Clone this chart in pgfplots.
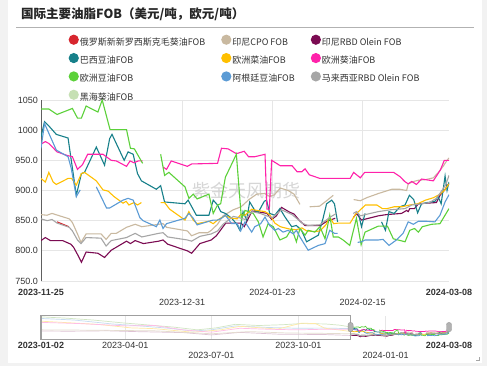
\documentclass[border=0pt]{standalone}
\usepackage{fontspec}
\setmainfont{Liberation Sans}
\newfontfamily\cjk{Noto Sans CJK SC}
\usepackage{pgfplots}
\usepackage{pgfplotstable}
\pgfplotsset{compat=1.18}

\definecolor{cRed}{HTML}{D7262E}
\definecolor{cTan}{HTML}{C9B9A0}
\definecolor{cMaroon}{HTML}{7B0B52}
\definecolor{cTeal}{HTML}{17808A}
\definecolor{cYellow}{HTML}{FFC000}
\definecolor{cMagenta}{HTML}{FF22AA}
\definecolor{cGreen}{HTML}{5CD13A}
\definecolor{cBlue}{HTML}{5B9BD5}
\definecolor{cGray}{HTML}{A6A6A6}
\definecolor{cLgreen}{HTML}{C6E0B4}
\definecolor{gridc}{HTML}{E6E6E6}
\definecolor{axisc}{HTML}{606060}
\definecolor{tickc}{HTML}{333333}
\definecolor{bgc}{HTML}{F2F2F2}

\pgfplotstableread{
d v
4.1 848
5.6 844
7.1 840
}\tRed

\pgfplotstableread{
d v
0 860
1.5 859
2.8 862
7.2 853
8 847
9.3 828
10.2 814
11.5 828
15.3 828
16.6 819
17.9 829
19.2 829
21.8 839
24 844
25.7 840
30 844
31.1 845
32 839
37.3 833
38.4 825
40.3 830
42.5 830
43.4 834
45 844
46.4 858
49 868
51 873
53 885
55 894
57 895
58.3 890
59.5 893
61 904
63 900
64.5 894
66 877
nan nan
68.5 873
71 874
72.8 883
74.5 892
nan nan
79.7 885
81.4 883
83 888
86 895
89.4 902
91.5 902
93.2 900
93.6 911
95 915
96.2 917
98 918
100 921
101.3 930
102.5 940
103.3 948
104 954
}\tTan

\pgfplotstableread{
d v
0 817
1.1 822
2.4 817
5.5 817
7.6 811
8.3 806
9.3 794
10.3 781
11.5 798
14.5 796
16.2 789
17.9 801
19.2 806
21.8 816
22.8 812
24 817
26.1 812
30 816
31.1 818
32.3 811
37.3 800
38.4 796
40.5 812
43.4 818
44.7 825
47.1 846
49.1 846
51 846
51.8 840
53.8 866
55.9 864
57.6 862
58.8 852
60 858
61.3 872
63.4 864
64.5 861
65.9 850
67.3 842
71.2 842
72.9 849
75 854
nan nan
79.6 855
80.4 862
81.7 851
86 858
88 860
91.9 862
93.2 867
93.6 865
94 870
95.2 870
96.2 878
100.8 880
101.7 892
102.8 900
104 912
}\tMaroon

\pgfplotstableread{
d v
0 989
0.9 1014
2 1007
3.9 993
6.9 987
9 892
10.3 928
11.1 930
14.1 972
16.2 942
17.5 986
18.1 993
21.2 950
22.2 964
23.5 960
24.6 928
25.6 916
29.4 902
30.5 908
31.5 881
36.7 878
37.5 884
39.6 859
42.8 859
43.9 884
45 876
45.8 865
47 862
48.6 854
49.8 845
50.7 834
51.5 865
52.4 851
53.2 881
54.5 867
55.4 864
56.9 882
57.5 884
58.3 862
59.6 859
60.9 870
62.2 856
63.9 840
65.1 842
66.4 834
67.7 815
70.7 826
71.9 854
72.8 878
74.1 884
74.8 878
75.6 848
nan nan
80.9 862
81.7 840
82.6 862
nan nan
86.8 848
87.8 834
88.7 865
90 862
91.5 873
92.8 876
93.9 892
95 885
96 863
97 878
98.5 880
100.4 882
101.2 890
102 878
103 924
103.5 900
104 914
}\tTeal

\pgfplotstableread{
d v
0 920
1.1 914
2 930
3.1 914
3.9 910
6.9 920
7.8 920
9 909
10.3 928
11.1 930
14.1 916
15.8 901
17.1 899
18.6 890
20.9 879
21.7 882
22.4 876
23.7 880
24.6 876
25.6 880
nan nan
30.5 880
31.5 880
32.8 869
36.7 851
37.7 865
38.8 851
39.8 845
42.8 849
43.9 845
45 851
46 855
47 858
48.6 854
50 853
50.9 860
52 859
53.7 869
55 867
57.1 865
58.3 860
59.6 846
61 840
62.2 838
63.4 836
65.1 835
66.5 838
67.7 833
69.8 832
71.1 833
72.6 843
73.6 856
74.6 845
75.8 846
78.8 846
80.1 860
82.7 876
85.6 876
87 870
88.2 870
90 873
92 873
94 876
96 878
98 884
100 888
101.5 893
102.8 900
104 911
}\tYellow

\pgfplotstableread{
d v
0 977
1.1 981
2 978
4.1 964
6.7 958
8 956
9.3 935
10.6 943
11.9 960
15.8 960
17.9 950
19.2 949
21.8 940
22.7 949
23.7 946
24.8 949
25.9 949
nan nan
31.1 939
32 935
33.2 949
37.3 940
38.4 944
45 945
46 970
47.7 969
49.8 961
51.8 965
52.9 956
54.5 956
57.1 960
57.6 869
58.2 869
58.8 950
61 941
64 941
65.3 931
66.5 931
67.3 936
68.4 926
71.1 920
78.8 920
79.7 930
81.4 921
82.5 930
89.9 930
91.5 923
92.7 915
93.6 911
94.5 915
95.7 910
97 919
100 916
101.8 934
102.8 950
104 950
}\tMagenta

\pgfplotstableread{
d v
0 1035
2 1035
4.1 1026
8 1036
9.3 1020
10.3 1020
11.5 1040
14.5 1030
15.6 1050
17.6 1001
21.8 1001
22.8 970
23.8 969
25.9 945
nan nan
30.5 960
31.5 925
32.6 930
36.7 906
37.7 887
38.8 894
39.8 886
42.8 894
43.9 862
45 876
45.8 878
47 922
49.8 960
51.1 852
52 867
54.1 862
55.4 848
56.6 823
57.9 845
59.2 840
60.9 818
62.6 823
63.9 837
65.1 815
66 837
67.3 826
68.1 834
69.8 831
71.1 840
72.4 820
73.6 859
74.5 823
75.8 823
77 818
78.7 809
80.4 854
81.6 810
82.6 831
86 841
88.3 841
89.8 820
92.8 815
94 834
95.2 837
96.2 831
97.2 840
99.6 844
101.7 845
104 870
}\tGreen

\pgfplotstableread{
d v
0 970
0.9 1011
3.9 967
6.9 956
7.7 937
9 890
10 901
nan nan
14.1 906
16.7 871
17.5 871
20.9 884
22.2 887
23.5 884
25.2 855
26 850
29.4 840
30.3 851
31.1 837
32 845
36.7 854
37.7 862
38.8 854
39.8 843
42.8 849
43.9 851
45 851
46 854
47 859
48.6 845
50 845
50.9 833
52 848
53.7 831
54.5 840
56 845
57.1 856
58.3 842
59.6 834
60.5 837
61.7 831
63 834
64.3 828
65.1 834
66 823
68.1 801
70.7 809
72.4 812
73.6 834
74.8 829
75.6 829
nan nan
80.7 814
81.7 815
82.6 818
86 818
87.2 819
88.7 809
90.6 818
92.3 829
93.6 848
94.9 844
96.2 849
98.3 849
100.4 848
101.7 859
103 881
104 893
}\tBlue

\pgfplotstableread{
d v
0 853
1.6 850
2.8 852
4.1 846
7.2 839
8 833
9.3 818
10.2 812
11.5 822
15.3 821
16.6 808
17.9 817
21.8 822
24 829
25.7 823
30 829
31.1 830
32.3 823
37.3 818
38.4 816
40.5 824
43.4 828
45 833
46.4 844
49 857
50.5 855
52 852
53.8 865
55.9 862
57.5 858
59 855
61.3 868
64 860
65.5 852
66.5 846
68 842
71 843
72.5 850
74 857
75.3 862
nan nan
79.6 862
80.4 865
81.4 858
82.6 860
86 865
89 868
92.8 870
94.5 876
97 878
99 880
100.8 887
102.3 901
103.2 910
104 925
}\tGray

% navigator history (faded)
\pgfplotstableread{
d v
0 1290
25 1260
55 1210
85 1140
110 1090
140 1030
165 960
185 1010
205 1100
230 1070
255 1090
275 1120
300 1110
315 1080
327 1035
}\nA
\pgfplotstableread{
d v
0 1250
35 1210
75 1110
105 1060
135 1000
160 930
180 960
205 1060
240 1020
270 1000
300 1005
327 990
}\nB
\pgfplotstableread{
d v
0 1180
30 1140
60 1100
95 1010
120 990
160 900
190 960
210 1050
250 980
275 1130
290 1120
300 1000
327 920
}\nC
\pgfplotstableread{
d v
0 1150
40 1120
90 1060
120 1070
150 960
180 900
210 1000
240 975
270 960
300 975
327 976
}\nD
\pgfplotstableread{
d v
0 930
30 925
70 935
100 915
150 890
180 830
210 895
250 850
300 840
327 817
}\nE
\pgfplotstableread{
d v
0 960
60 950
120 935
180 860
220 915
260 880
300 870
327 860
}\nF

\begin{document}
\begin{tikzpicture}[x=1pt,y=1pt]
\fill[bgc] (0pt,0pt) rectangle (487pt,366pt);
\fill[white] (8pt,3pt) rectangle (482pt,366pt);
\draw[gray!70, line width=0.6pt] (476pt,6pt) -- (479pt,6pt) -- (479pt,9pt);
\node[anchor=west, inner sep=0pt, font=\cjk\bfseries\fontsize{12.5}{14}\selectfont, text=black!85] at (21pt,352pt) {国际主要油脂FOB（美元/吨，欧元/吨）};
\draw[gray!60, line width=0.8pt] (16pt,339pt) -- (474pt,339pt);

\begin{axis}[
  at={(41pt,85pt)}, anchor=south west,
  scale only axis, width=408pt, height=181pt,
  xmin=0, xmax=104, ymin=750, ymax=1050,
  axis lines*=left,
  x axis line style={draw=none},
  y axis line style={draw=axisc, line width=1pt},
  xtick={36,59,82}, xticklabels={,,},
  ytick={750,800,850,900,950,1000,1050},
  yticklabels={750.0,800.0,850.0,900.0,950.0,1000,1050},
  yticklabel style={font=\fontsize{9}{10}\selectfont, text=tickc, inner sep=0pt, xshift=-3pt},
  major tick length=0pt,
  grid=major, major grid style={draw=gridc, line width=0.7pt},
  unbounded coords=jump,
  clip mode=individual,
  every axis plot/.append style={line width=1.1pt, mark=none},
  legend columns=3,
  legend cell align=left,
  legend image code/.code={\fill (4.5pt,3pt) circle (4.5pt);},
  legend style={at={(0.0674,1.362)}, anchor=north west, draw=none, fill=none,
    inner sep=0pt, font=\cjk\fontsize{9}{10}\selectfont, text=tickc, row sep=4.8pt,
    nodes={inner sep=1pt, text height=7pt, text depth=2pt},
    /tikz/every even column/.append style={column sep=15pt}},
]
\node[text=gray!40, opacity=0.8, font=\cjk\fontsize{18}{18}\selectfont] at (axis cs:52.5,900) {紫金天风期货};
\addplot[color=cRed] table[x=d,y=v] {\tRed};
\addlegendentry{俄罗斯新新罗西斯克毛葵油FOB}
\addplot[color=cTan] table[x=d,y=v] {\tTan};
\addlegendentry{印尼CPO FOB}
\addplot[color=cMaroon] table[x=d,y=v] {\tMaroon};
\addlegendentry{印尼RBD Olein FOB}
\addplot[color=cTeal] table[x=d,y=v] {\tTeal};
\addlegendentry{巴西豆油FOB}
\addplot[color=cYellow] table[x=d,y=v] {\tYellow};
\addlegendentry{欧洲菜油FOB}
\addplot[color=cMagenta] table[x=d,y=v] {\tMagenta};
\addlegendentry{欧洲葵油FOB}
\addplot[color=cGreen] table[x=d,y=v] {\tGreen};
\addlegendentry{欧洲豆油FOB}
\addplot[color=cBlue] table[x=d,y=v] {\tBlue};
\addlegendentry{阿根廷豆油FOB}
\addplot[color=cGray] table[x=d,y=v] {\tGray};
\addlegendentry{马来西亚RBD Olein FOB}
\addlegendimage{color=cLgreen}
\addlegendentry{黑海葵油FOB}
\node[font=\bfseries\fontsize{9}{10}\selectfont, text=tickc, yshift=-11pt] at (axis cs:0,750) {2023-11-25};
\node[font=\fontsize{9}{10}\selectfont, text=tickc, yshift=-21pt] at (axis cs:36,750) {2023-12-31};
\node[font=\fontsize{9}{10}\selectfont, text=tickc, yshift=-11pt] at (axis cs:59,750) {2024-01-23};
\node[font=\fontsize{9}{10}\selectfont, text=tickc, yshift=-21pt] at (axis cs:82,750) {2024-02-15};
\node[font=\bfseries\fontsize{9}{10}\selectfont, text=tickc, yshift=-11pt] at (axis cs:104,750) {2024-03-08};
\end{axis}

\begin{axis}[
  at={(41pt,26.7pt)}, anchor=south west,
  scale only axis, width=408pt, height=23.6pt,
  xmin=0, xmax=431, ymin=719, ymax=1320,
  axis line style={draw=none},
  xtick={89,180,272,364}, xticklabels={,,,},
  ytick=\empty,
  major tick length=0pt,
  xmajorgrids, major grid style={draw=gridc, line width=0.6pt},
  unbounded coords=jump,
  clip mode=individual,
  every axis plot/.append style={line width=0.7pt, mark=none},
]
\addplot[color=cLgreen!80] table[x=d,y=v] {\nA};
\addplot[color=cBlue!35] table[x=d,y=v] {\nB};
\addplot[color=cYellow!35] table[x=d,y=v] {\nC};
\addplot[color=cMagenta!30] table[x=d,y=v] {\nD};
\addplot[color=cMaroon!25] table[x=d,y=v] {\nE};
\addplot[color=cTan!50] table[x=d,y=v] {\nF};
\addplot[color=cTan] table[x expr=\thisrow{d}+327,y=v] {\tTan};
\addplot[color=cMaroon] table[x expr=\thisrow{d}+327,y=v] {\tMaroon};
\addplot[color=cTeal] table[x expr=\thisrow{d}+327,y=v] {\tTeal};
\addplot[color=cYellow] table[x expr=\thisrow{d}+327,y=v] {\tYellow};
\addplot[color=cMagenta] table[x expr=\thisrow{d}+327,y=v] {\tMagenta};
\addplot[color=cGreen] table[x expr=\thisrow{d}+327,y=v] {\tGreen};
\addplot[color=cBlue] table[x expr=\thisrow{d}+327,y=v] {\tBlue};
\addplot[color=cGray] table[x expr=\thisrow{d}+327,y=v] {\tGray};
\draw[color=gray!75, line width=1.2pt] (axis cs:0,719) rectangle (axis cs:327,1320);
\node[fill=gray!60, draw=gray!80, rounded corners=2pt, minimum width=5pt, minimum height=9pt, inner sep=0pt] at (axis cs:327,1030) {};
\node[fill=gray!60, draw=gray!80, rounded corners=2pt, minimum width=5pt, minimum height=9pt, inner sep=0pt] at (axis cs:431,1030) {};
\node[font=\bfseries\fontsize{9}{10}\selectfont, text=tickc, yshift=-6.5pt] at (axis cs:0,719) {2023-01-02};
\node[font=\fontsize{9}{10}\selectfont, text=tickc, yshift=-6.5pt] at (axis cs:89,719) {2023-04-01};
\node[font=\fontsize{9}{10}\selectfont, text=tickc, yshift=-15.7pt] at (axis cs:180,719) {2023-07-01};
\node[font=\fontsize{9}{10}\selectfont, text=tickc, yshift=-6.5pt] at (axis cs:272,719) {2023-10-01};
\node[font=\fontsize{9}{10}\selectfont, text=tickc, yshift=-15.7pt] at (axis cs:364,719) {2024-01-01};
\node[font=\bfseries\fontsize{9}{10}\selectfont, text=tickc, yshift=-6.5pt] at (axis cs:431,719) {2024-03-08};
\end{axis}
\end{tikzpicture}
\end{document}
